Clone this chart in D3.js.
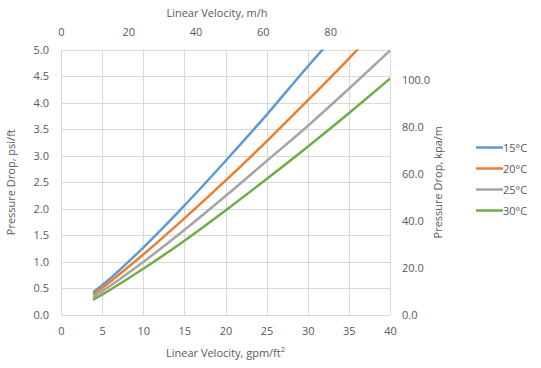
<!DOCTYPE html>
<html><head><meta charset="utf-8">
<script src="https://cdn.jsdelivr.net/npm/d3@7"></script>
<style>
body{margin:0;background:#fff;}
svg text{font-family:"Open Sans",sans-serif;fill:#595959;}
</style></head>
<body><svg id="c" width="541" height="368"></svg>
<script>
const velocity = [4, 5, 10, 15, 20, 25, 30, 35, 40];
const seriesNames = ["15°C", "20°C", "25°C", "30°C"];
const colors = ["#5B9BD5", "#ED7D31", "#A5A5A5", "#70AD47"];
const drop15 = [0.44, 0.56, 1.27, 2.06, 2.90, 3.77, 4.68, 5.55, 6.4];
const drop20 = [0.395, 0.51, 1.14, 1.82, 2.53, 3.27, 4.04, 4.83, 5.65];
const drop25 = [0.345, 0.447, 1.00, 1.60, 2.24, 2.90, 3.56, 4.26, 4.98];
const drop30 = [0.295, 0.384, 0.87, 1.40, 1.97, 2.56, 3.17, 3.80, 4.45];
const bottomTicks = [0, 5, 10, 15, 20, 25, 30, 35, 40];
const leftTicks = [0, 0.5, 1, 1.5, 2, 2.5, 3, 3.5, 4, 4.5, 5];
const topTicks = [0, 20, 40, 60, 80];
const rightTicks = [0, 20, 40, 60, 80, 100];
const GPM_TO_MH = 2.4448;     // gpm/ft² -> m/h
const PSIFT_TO_KPAM = 22.6206; // psi/ft -> kPa/m

const series = [drop15, drop20, drop25, drop30];
const svg = d3.select("#c");
const L = 61, R = 390, T = 49.5, B = 315;

const x = d3.scaleLinear().domain([0, 40]).range([L, R]);
const y = d3.scaleLinear().domain([0, 5]).range([B, T]);
const xTop = d3.scaleLinear().domain([0, 40 * GPM_TO_MH]).range([L, R]);
const yRight = d3.scaleLinear().domain([0, 5 * PSIFT_TO_KPAM]).range([B, T]);

// gridlines
const grid = svg.append("g").attr("stroke", "#d9d9d9").attr("stroke-width", 1);
bottomTicks.forEach(t => grid.append("line").attr("x1", Math.round(x(t)) + 0.5).attr("x2", Math.round(x(t)) + 0.5).attr("y1", y(5)).attr("y2", y(0)));
leftTicks.forEach(t => grid.append("line").attr("y1", Math.round(y(t)) + 0.5).attr("y2", Math.round(y(t)) + 0.5).attr("x1", x(0)).attr("x2", x(40)));

function styleAxis(g) {
  g.select(".domain").remove();
  g.selectAll(".tick line").remove();
  g.selectAll("text").attr("font-size", 11).attr("fill", "#595959").attr("font-family", "Open Sans, sans-serif");
}
svg.append("g").attr("transform", `translate(0,${B + 4})`)
  .call(d3.axisBottom(x).tickValues(bottomTicks).tickFormat(d3.format("d")).tickSize(0).tickPadding(8)).call(styleAxis);
svg.append("g").attr("transform", `translate(${L - 7},0)`)
  .call(d3.axisLeft(y).tickValues(leftTicks).tickFormat(d3.format(".1f")).tickSize(0).tickPadding(5)).call(styleAxis);
svg.append("g").attr("transform", `translate(0,${T - 12})`)
  .call(d3.axisTop(xTop).tickValues(topTicks).tickFormat(d3.format("d")).tickSize(0).tickPadding(2)).call(styleAxis);
svg.append("g").attr("transform", `translate(${R + 7},0)`)
  .call(d3.axisRight(yRight).tickValues(rightTicks).tickFormat(d3.format(".1f")).tickSize(0).tickPadding(5)).call(styleAxis);

// titles
svg.append("text").attr("x", (L + R) / 2).attr("y", 357).attr("text-anchor", "middle").attr("font-size", 11)
  .html('Linear Velocity, gpm/ft<tspan baseline-shift="super" font-size="7.5">2</tspan>');
svg.append("text").attr("x", 217).attr("y", 17).attr("text-anchor", "middle").attr("font-size", 11).text("Linear Velocity, m/h");
svg.append("text").attr("transform", `translate(15,${(T + B) / 2}) rotate(-90)`).attr("text-anchor", "middle").attr("font-size", 11).text("Pressure Drop, psi/ft");
svg.append("text").attr("transform", `translate(442,${(T + B) / 2}) rotate(-90)`).attr("text-anchor", "middle").attr("font-size", 11).text("Pressure Drop, kpa/m");

// lines
svg.append("clipPath").attr("id", "clip").append("rect").attr("x", L).attr("y", T).attr("width", R - L).attr("height", B - T);
const line = d3.line().x((d, i) => x(velocity[i])).y(d => y(d)).curve(d3.curveMonotoneX);
const lg = svg.append("g").attr("clip-path", "url(#clip)");
series.forEach((s, i) => {
  lg.append("path").datum(s).attr("d", line).attr("fill", "none").attr("stroke", colors[i]).attr("stroke-width", 2.5).attr("stroke-linecap", "round");
});

// legend
const leg = svg.append("g");
seriesNames.forEach((n, i) => {
  const yy = 147.5 + i * 21;
  leg.append("line").attr("x1", 476).attr("x2", 503).attr("y1", yy).attr("y2", yy).attr("stroke", colors[i]).attr("stroke-width", 2.5);
  leg.append("text").attr("x", 503).attr("y", yy + 4).attr("font-size", 11).text(n);
});
</script></body></html>
